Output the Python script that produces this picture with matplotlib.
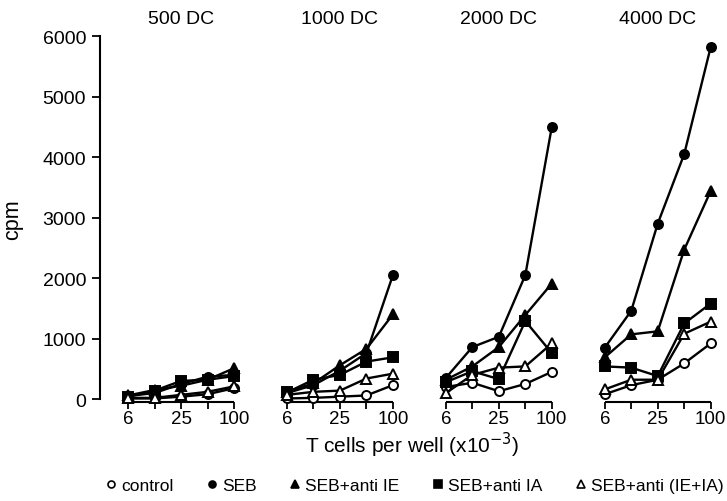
import numpy as np
import matplotlib
matplotlib.use('Agg')
import matplotlib.pyplot as plt
from matplotlib.lines import Line2D

plt.rcParams['font.family'] = ['Liberation Sans', 'DejaVu Sans']

groups = ['500 DC', '1000 DC', '2000 DC', '4000 DC']
doses = [6, 12.5, 25, 50, 100]
dose_labels = ['6', '', '25', '', '100']

control = [[10, 10, 40, 80, 180],
           [10, 20, 40, 60, 230],
           [200, 270, 130, 250, 450],
           [80, 230, 320, 590, 920]]
seb = [[50, 100, 250, 370, 400],
       [100, 230, 470, 760, 2050],
       [350, 860, 1030, 2050, 4500],
       [850, 1460, 2900, 4050, 5820]]
seb_anti_ie = [[60, 150, 220, 320, 510],
               [120, 260, 560, 830, 1400],
               [320, 540, 860, 1390, 1910],
               [690, 1070, 1120, 2470, 3440]]
seb_anti_ia = [[40, 140, 300, 320, 380],
               [110, 320, 400, 620, 690],
               [280, 460, 330, 1290, 760],
               [540, 520, 380, 1250, 1580]]
seb_anti_ie_ia = [[20, 20, 70, 120, 210],
                  [70, 120, 140, 340, 420],
                  [100, 400, 520, 540, 920],
                  [160, 320, 320, 1080, 1280]]

series = [
    ('control', control, 'o', 'white'),
    ('SEB', seb, 'o', 'black'),
    ('SEB+anti IE', seb_anti_ie, '^', 'black'),
    ('SEB+anti IA', seb_anti_ia, 's', 'black'),
    ('SEB+anti (IE+IA)', seb_anti_ie_ia, '^', 'white'),
]

fig = plt.figure(figsize=(7.27, 5.02), dpi=100)
ax = fig.add_axes([0.1376, 0.197, 0.86, 0.729])

gap = 6
ymin = -50
xs_all = []
for g in range(len(groups)):
    xs = g * gap + np.arange(len(doses))
    xs_all.extend(xs)
    for name, vals, marker, face in series:
        ms = 7.5 if marker == '^' else 6.5
        ax.plot(xs, vals[g], color='black', lw=1.7, marker=marker, ms=ms,
                mfc=face, mec='black', mew=1.4, clip_on=False, zorder=3)
    # axe x propre a chaque groupe
    ax.hlines(ymin, xs[0], xs[-1], color='black', lw=1.5, clip_on=False)
    ax.text(xs.mean(), 1.025, groups[g], transform=ax.get_xaxis_transform(),
            ha='center', va='bottom', fontsize=14)

ax.set_xticks(xs_all)
ax.set_xticklabels(dose_labels * len(groups), fontsize=13.5)
ax.set_xlim(-1.06, 22.55)
ax.set_ylim(ymin, 6000)
ax.set_yticks(np.arange(0, 6001, 1000))
ax.tick_params(axis='y', labelsize=14, length=6, width=1.3, direction='out', pad=4)
ax.tick_params(axis='x', length=5, width=1.3, direction='out', pad=1)

for s in ['top', 'right', 'bottom']:
    ax.spines[s].set_visible(False)
ax.spines['left'].set_bounds(0, 6000)
ax.spines['left'].set_linewidth(1.5)

ax.set_ylabel('cpm', fontsize=15.5, labelpad=14)
ax.set_xlabel('T cells per well (x10$^{-3}$)', fontsize=15, labelpad=2)

handles = [Line2D([], [], linestyle='none', marker=m, mfc=f, mec='black',
                  mew=1.2, ms=6 if m != 'o' else 5) for _, _, m, f in series]
labels = [s[0] for s in series]
fig.legend(handles, labels, loc='lower center', bbox_to_anchor=(0.568, -0.016),
           ncol=5, frameon=False, fontsize=12.5, handletextpad=0.1,
           columnspacing=1.7, handlelength=1.0)

plt.savefig('out.png', dpi=100)
